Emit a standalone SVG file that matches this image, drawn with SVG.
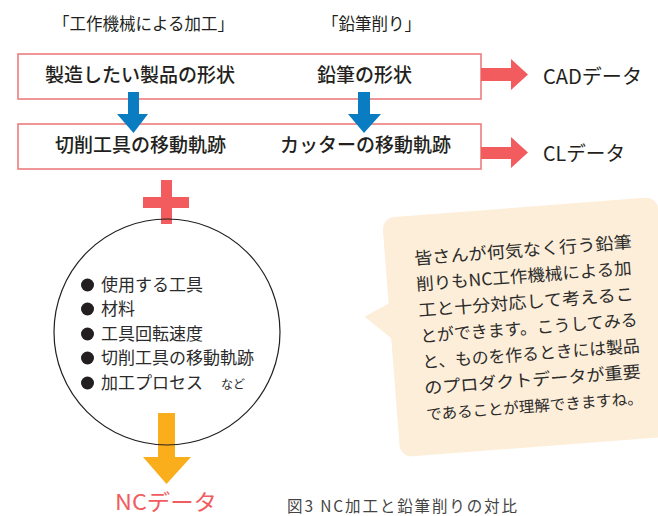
<svg xmlns="http://www.w3.org/2000/svg" width="658" height="516" viewBox="0 0 658 516">
<style>
text{font-family:"Noto Sans CJK JP","Liberation Sans",sans-serif;fill:#231f20}
.box{fill:#fff;stroke:#ee7c7c;stroke-width:1.6}
.bt{font-size:19px;font-weight:500}
.hd{font-size:16.5px}
.li{font-size:17px;fill:#2b2b2b}
.bb{font-size:17px;fill:#2b2b2b}
.red{fill:#f25c5e}
.blue{fill:#0a7dc2}
.org{fill:#fbae1b}
</style>
<rect width="658" height="516" fill="#fff"/>
<g id="labels">
<text class="hd" x="53" y="30">「工作機械による加工」</text>
<text class="hd" x="322" y="30">「鉛筆削り」</text>
</g>
<g id="box1">
<rect class="box" x="18" y="54" width="463" height="45"/>
<text class="bt" x="45" y="82">製造したい製品の形状</text>
<text class="bt" x="317" y="82">鉛筆の形状</text>
</g>
<g id="box2">
<rect class="box" x="18" y="124" width="463" height="45"/>
<text class="bt" x="55" y="152">切削工具の移動軌跡</text>
<text class="bt" x="280" y="152">カッターの移動軌跡</text>
</g>
<g id="connectors">
<polygon class="blue" points="128,92 139,92 139,114 148,114 133.5,133 117,114 128,114"/>
<polygon class="blue" points="358,92 370,92 370,114 381,114 364,133 348,114 358,114"/>
<polygon class="red" points="481,68 511,68 511,59 528,74.5 511,90 511,81 481,81"/>
<polygon class="red" points="481,147 511,147 511,137 528,152.5 511,168 511,159 481,159"/>
<polygon class="red" points="161,180 172,180 172,197 189,197 189,208 172,208 172,224 161,224 161,208 143,208 143,197 161,197"/>
<polygon class="org" points="158,413 175,413 175,457 191,457 166.5,484 143,457 158,457"/>
</g>
<g id="cad">
<text x="543" y="84" font-size="20" textLength="99" lengthAdjust="spacingAndGlyphs">CADデータ</text>
</g>
<g id="cl">
<text x="543" y="161" font-size="20" textLength="82" lengthAdjust="spacingAndGlyphs">CLデータ</text>
</g>
<g id="params">
<circle cx="167" cy="332" r="113" fill="none" stroke="#231f20" stroke-width="1.2"/>
<g fill="#231f20">
<circle cx="87.5" cy="285" r="6.5"/>
<circle cx="87.5" cy="309" r="6.5"/>
<circle cx="87.5" cy="334" r="6.5"/>
<circle cx="87.5" cy="358" r="6.5"/>
<circle cx="87.5" cy="383" r="6.5"/>
</g>
<text class="li" x="101" y="291">使用する工具</text>
<text class="li" x="101" y="315">材料</text>
<text class="li" x="101" y="340">工具回転速度</text>
<text class="li" x="101" y="364">切削工具の移動軌跡</text>
<text class="li" x="101" y="389">加工プロセス<tspan font-size="12" dx="18">など</tspan></text>
</g>
<g id="nc">
<text x="115" y="510" font-size="22" style="fill:#f25c5e" textLength="102" lengthAdjust="spacingAndGlyphs">NCデータ</text>
</g>
<g id="bubble">
<g transform="rotate(-4.4 382 218)">
<polygon points="390,300 357,315 392,348" fill="#fdeed9"/>
<rect x="382" y="218" width="276" height="240" rx="12" fill="#fdeed9"/>
<text class="bb" x="411" y="267" textLength="218" lengthAdjust="spacingAndGlyphs">皆さんが何気なく行う鉛筆</text>
<text class="bb" x="411" y="293" textLength="216" lengthAdjust="spacingAndGlyphs">削りもNC工作機械による加</text>
<text class="bb" x="411" y="319" textLength="216" lengthAdjust="spacingAndGlyphs">工と十分対応して考えるこ</text>
<text class="bb" x="411" y="345" textLength="218" lengthAdjust="spacingAndGlyphs">とができます。こうしてみる</text>
<text class="bb" x="411" y="371" font-size="16.6" textLength="218" lengthAdjust="spacingAndGlyphs">と、ものを作るときには製品</text>
<text class="bb" x="411" y="397" textLength="217" lengthAdjust="spacingAndGlyphs">のプロダクトデータが重要</text>
<text class="bb" x="411" y="423" style="font-size:15.5px" textLength="217" lengthAdjust="spacingAndGlyphs">であることが理解できますね。</text>
</g>
</g>
<g id="caption">
<text x="287" y="512" font-size="15.5" style="fill:#444" textLength="230" lengthAdjust="spacing">図3 NC加工と鉛筆削りの対比</text>
</g>
</svg>
